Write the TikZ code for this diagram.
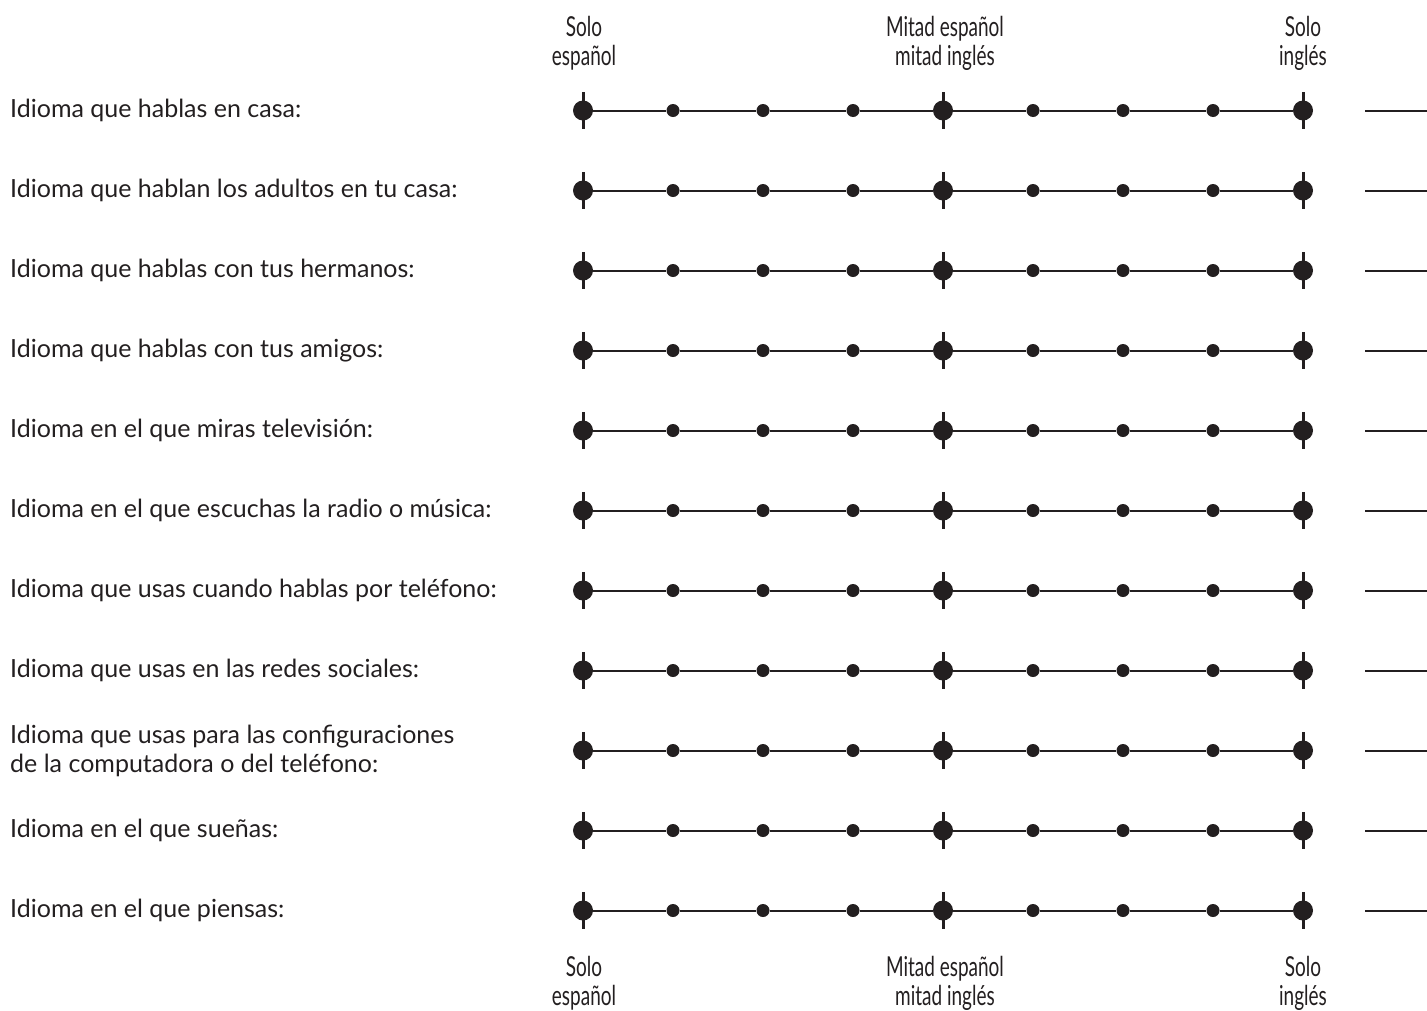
\documentclass[tikz,border=0pt]{standalone}
\usepackage{fontspec}
\setmainfont{Lato}
\newfontfamily\headfont{Lato}[FakeStretch=0.69]
\definecolor{ink}{HTML}{231F20}
\usetikzlibrary{positioning}

\begin{document}
\begin{tikzpicture}[x=1pt,y=-1pt,
    bigdot/.style={circle,fill=ink,inner sep=0,minimum size=20pt},
    smalldot/.style={circle,fill=ink,inner sep=0,minimum size=13pt},
    rowlabel/.style={anchor=west,align=left,inner sep=0,text=ink,
      font=\fontsize{25}{29}\selectfont},
    scalehead/.style={anchor=north,align=center,inner sep=0,text=ink,
      font=\headfont\fontsize{27.5}{29}\selectfont},
    scaleline/.style={draw=ink,line width=2pt}]
  \useasboundingbox (0,0) rectangle (1427,1010);

  % one row per question
  \foreach \txt [count=\r] in {
      Idioma que hablas en casa:,
      Idioma que hablan los adultos en tu casa:,
      Idioma que hablas con tus hermanos:,
      Idioma que hablas con tus amigos:,
      Idioma en el que miras televisión:,
      Idioma en el que escuchas la radio o música:,
      Idioma que usas cuando hablas por teléfono:,
      Idioma que usas en las redes sociales:,
      {Idioma que usas para las configuraciones\\de la computadora o del teléfono:},
      Idioma en el que sueñas:,
      Idioma en el que piensas:} {
    \pgfmathsetmacro{\y}{110.5+80*(\r-1)}
    \node[rowlabel] (L\r) at (10,\y) {\txt};
    \foreach \c in {0,...,8} {
      \pgfmathsetmacro{\x}{583+90*\c}
      \ifnum\c=0 \node[bigdot] (D\r-\c) at (\x,\y) {};
      \else\ifnum\c=4 \node[bigdot] (D\r-\c) at (\x,\y) {};
      \else\ifnum\c=8 \node[bigdot] (D\r-\c) at (\x,\y) {};
      \else \node[smalldot] (D\r-\c) at (\x,\y) {};
      \fi\fi\fi
    }
    \foreach \c [evaluate=\c as \n using int(\c+1)] in {0,...,7}
      \draw[scaleline] (D\r-\c) -- (D\r-\n);
    \foreach \c in {0,4,8}
      \draw[draw=ink,line width=3pt] (D\r-\c.center) ++(0,-18.5) -- ++(0,37);
    \coordinate (S\r) at (1365,\y);
    \coordinate (E\r) at (1427,\y);
    \draw[scaleline] (S\r) -- (E\r);
  }

  % scale headings, top and bottom
  \node[scalehead] (T0) at (584,16)  {Solo\\español};
  \node[scalehead] (T4) at (945,16)  {Mitad español\\mitad inglés};
  \node[scalehead] (T8) at (1303,16) {Solo\\inglés};
  \node[scalehead] (B0) at (584,956)  {Solo\\español};
  \node[scalehead] (B4) at (945,956)  {Mitad español\\mitad inglés};
  \node[scalehead] (B8) at (1303,956) {Solo\\inglés};
\end{tikzpicture}
\end{document}
